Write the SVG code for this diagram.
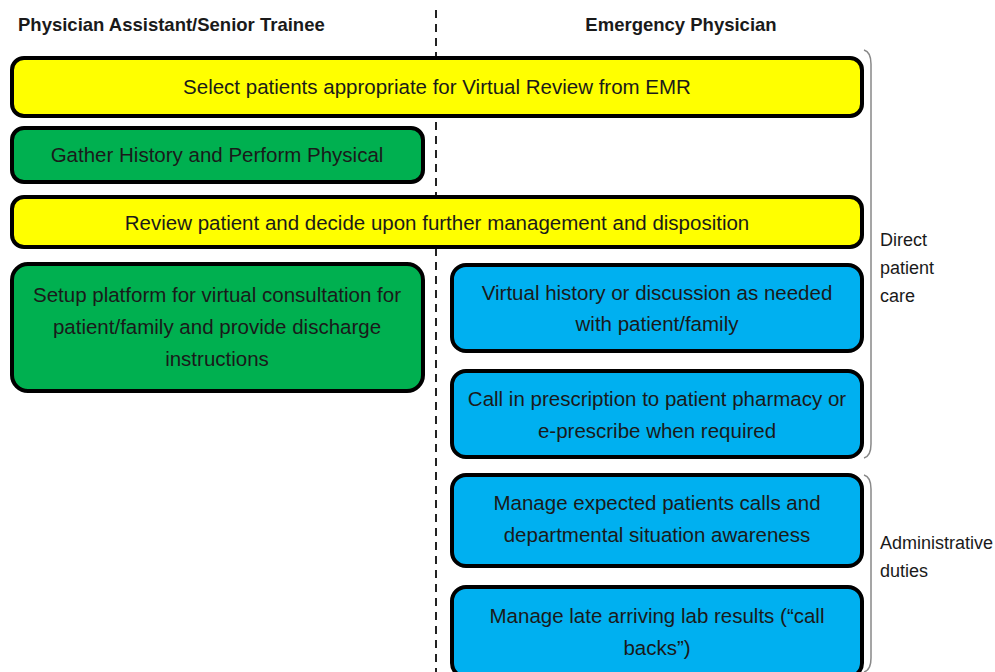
<svg xmlns="http://www.w3.org/2000/svg" width="995" height="672" viewBox="0 0 995 672">
<style>
.box{stroke:#000;stroke-width:4}
.y{fill:#FFFF00}.g{fill:#00B050}.b{fill:#00B0F0}
.t{font-family:"Liberation Sans",Arial,sans-serif;font-size:20.5px;fill:#1a1a1a;text-anchor:middle}
.h{font-family:"Liberation Sans",Arial,sans-serif;font-size:18.5px;font-weight:bold;fill:#1a1a1a}
.s{font-family:"Liberation Sans",Arial,sans-serif;font-size:18px;fill:#1a1a1a}
.br{fill:none;stroke:#888;stroke-width:1.5}
</style>
<rect width="995" height="672" fill="#fff"/>
<text class="h" x="18" y="31">Physician Assistant/Senior Trainee</text>
<text class="h" x="681" y="31" text-anchor="middle">Emergency Physician</text>
<g id="connectors">
<line x1="436" y1="10" x2="436" y2="672" stroke="#222" stroke-width="2" stroke-dasharray="8,6"/>
</g>
<g id="n1"><rect class="box y" x="12" y="58" width="850" height="58" rx="12"/><text class="t" x="437" y="94">Select patients appropriate for Virtual Review from EMR</text></g>
<g id="n2"><rect class="box g" x="12" y="128" width="411" height="54" rx="12"/><text class="t" x="217" y="162">Gather History and Perform Physical</text></g>
<g id="n3"><rect class="box y" x="12" y="197" width="850" height="50" rx="12"/><text class="t" x="437" y="230">Review patient and decide upon further management and disposition</text></g>
<g id="n4"><rect class="box g" x="12" y="264" width="411" height="127" rx="16"/><text class="t" x="217" y="302">Setup platform for virtual consultation for</text><text class="t" x="217" y="334">patient/family and provide discharge</text><text class="t" x="217" y="366">instructions</text></g>
<g id="n5"><rect class="box b" x="452" y="265" width="410" height="86" rx="14"/><text class="t" x="657" y="300">Virtual history or discussion as needed</text><text class="t" x="657" y="331">with patient/family</text></g>
<g id="n6"><rect class="box b" x="452" y="371" width="410" height="86" rx="14"/><text class="t" x="657" y="406">Call in prescription to patient pharmacy or</text><text class="t" x="657" y="438">e-prescribe when required</text></g>
<g id="n7"><rect class="box b" x="452" y="475" width="410" height="91" rx="14"/><text class="t" x="657" y="510">Manage expected patients calls and</text><text class="t" x="657" y="542">departmental situation awareness</text></g>
<g id="n8"><rect class="box b" x="452" y="587" width="410" height="90" rx="14"/><text class="t" x="657" y="623">Manage late arriving lab results (“call</text><text class="t" x="657" y="655">backs”)</text></g>
<g id="braces">
<path class="br" d="M864,50 Q871,52 871,64 L871,444 Q871,456 864,458"/>
<path class="br" d="M864,475 Q871,477 871,489 L871,658 Q871,670 864,672"/>
</g>
<text class="s" x="880" y="246">Direct</text>
<text class="s" x="880" y="274">patient</text>
<text class="s" x="880" y="302">care</text>
<text class="s" x="880" y="549">Administrative</text>
<text class="s" x="880" y="577">duties</text>
</svg>
